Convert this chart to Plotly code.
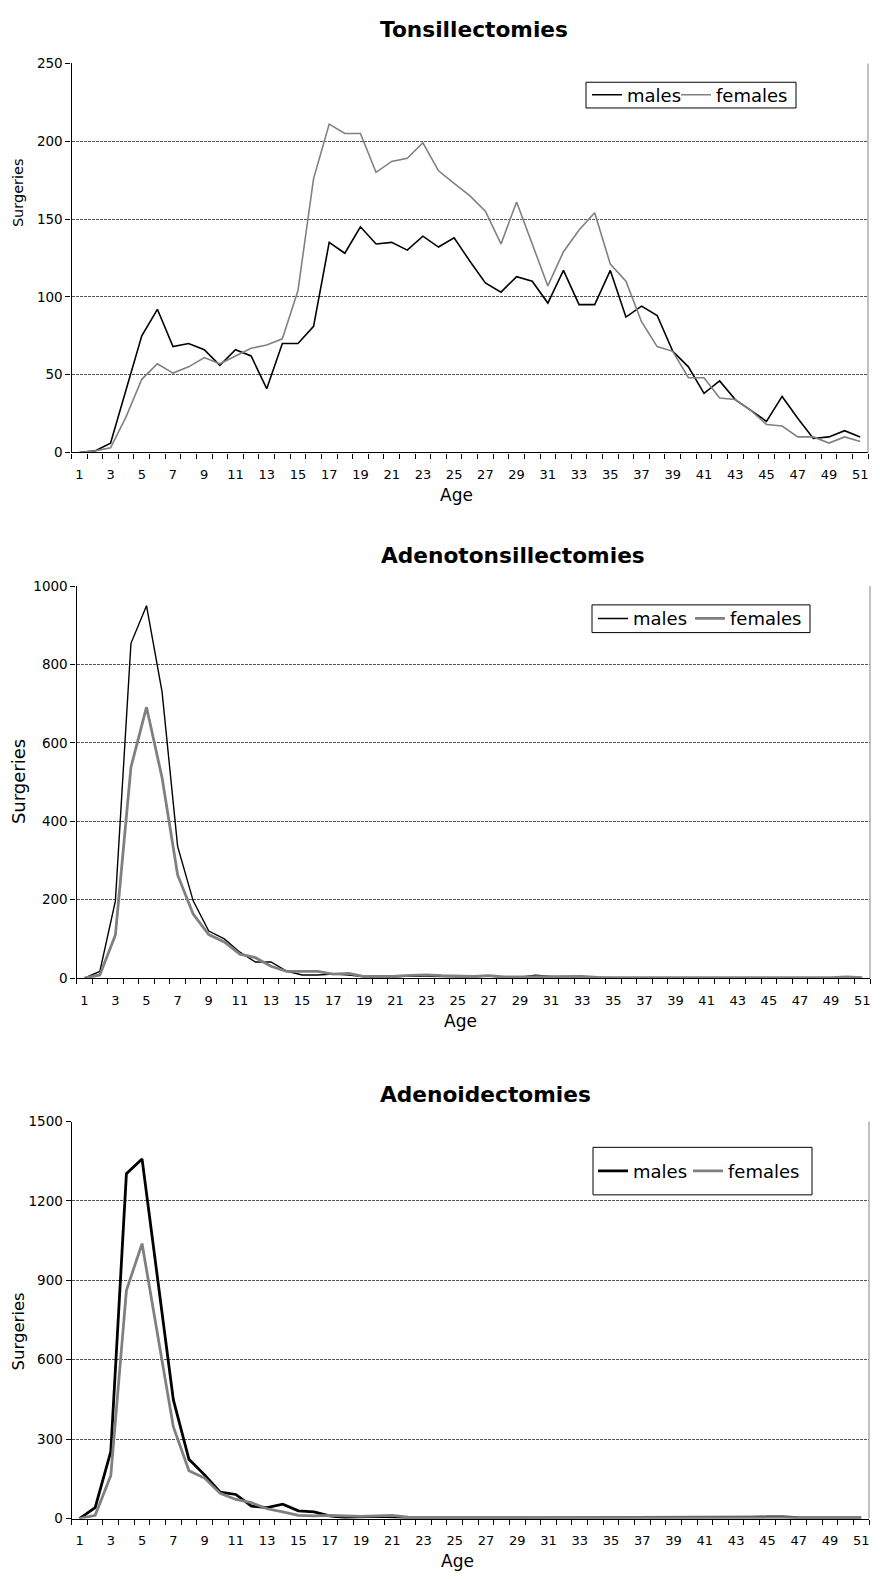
import plotly.graph_objects as go

W, H = 880, 1579
ages = list(range(1, 52))
tick_labels = [str(a) for a in range(1, 52, 2)]

tons_males = [0, 1, 6, 40, 75, 92, 68, 70, 66, 56, 66, 62, 41, 70, 70, 81, 135, 128, 145, 134,
              135, 130, 139, 132, 138, 123, 109, 103, 113, 110, 96, 117, 95, 95, 117, 87, 94, 88,
              65, 55, 38, 46, 34, 27, 20, 36, 22, 9, 10, 14, 10]
tons_females = [0, 1, 3, 23, 47, 57, 51, 55, 61, 57, 62, 67, 69, 73, 104, 176, 211, 205, 205, 180,
                187, 189, 199, 181, 173, 165, 155, 134, 161, 134, 107, 129, 143, 154, 121, 110, 84,
                68, 65, 48, 48, 35, 34, 27, 18, 17, 10, 10, 6, 10, 7]

adenotons_males = [0, 17, 197, 854, 950, 730, 336, 197, 120, 100, 66, 41, 41, 18, 8, 8, 10, 8,
                   3, 3, 3, 5, 5, 4, 3, 3, 5, 2, 2, 7, 4, 3, 3, 2, 1, 1, 1, 1, 1, 1, 1, 1, 1, 1,
                   1, 1, 1, 1, 1, 1, 0]
adenotons_females = [0, 8, 110, 538, 691, 511, 263, 163, 111, 92, 61, 52, 30, 17, 17, 17, 10, 12,
                     4, 4, 5, 7, 8, 6, 5, 4, 6, 3, 3, 3, 4, 3, 4, 2, 2, 1, 1, 1, 1, 1, 1, 1, 1, 1,
                     1, 1, 1, 1, 1, 3, 1]

adenoid_males = [0, 41, 253, 1303, 1359, 900, 449, 224, 165, 100, 91, 47, 41, 54, 29, 25, 10, 4,
                 5, 8, 6, 3, 3, 3, 3, 3, 4, 3, 3, 5, 3, 5, 5, 3, 3, 5, 5, 5, 3, 5, 3, 5, 3, 5, 6,
                 6, 3, 2, 2, 2, 2]
adenoid_females = [0, 12, 162, 862, 1039, 690, 347, 181, 153, 95, 72, 60, 37, 25, 12, 10, 12, 10,
                   8, 10, 12, 5, 5, 4, 4, 4, 4, 4, 4, 3, 3, 3, 3, 3, 3, 3, 3, 3, 3, 3, 3, 3, 3, 3,
                   3, 3, 3, 3, 2, 2, 2]

titles = ["Tonsillectomies", "Adenotonsillectomies", "Adenoidectomies"]
y_ranges = [(250, 50), (1000, 200), (1500, 300)]
series = [(tons_males, tons_females), (adenotons_males, adenotons_females),
          (adenoid_males, adenoid_females)]
widths = [(1.6, 1.6), (1.4, 2.8), (2.8, 2.8)]

# pixel geometry of each plot area: left, right, top, bottom
boxes = [(71.5, 868, 56, 449), (76.5, 870, 584, 980), (71.7, 869, 1125, 1526)]
title_pos = [(474, 22), (513, 553), (485, 1098)]
surg_pos = [(18, 187, 14.5), (18, 782, 18), (18, 1337, 16.5)]
legend_box = [(586, 796, 75, 101), (592, 810, 603, 631), (593, 812, 1151, 1199)]
legend_text_x = [(627, 716), (633, 730), (633, 728)]
legend_ids = [("legend7", "legend2"), ("legend3", "legend4"), ("legend5", "legend6")]

FONT = "DejaVu Sans"


def px(x):
    return x / W


def py(y):
    return 1 - y / H


fig = go.Figure()
for i in range(3):
    sfx = "" if i == 0 else str(i + 1)
    lg_m, lg_f = legend_ids[i]
    m, f = series[i]
    fig.add_trace(go.Scatter(x=ages, y=m, mode="lines", name="males",
                             line=dict(color="black", width=widths[i][0]),
                             xaxis="x" + sfx, yaxis="y" + sfx, legend=lg_m))
    fig.add_trace(go.Scatter(x=ages, y=f, mode="lines", name="females",
                             line=dict(color="#808080", width=widths[i][1]),
                             xaxis="x" + sfx, yaxis="y" + sfx, legend=lg_f))
    l, r, t, b = boxes[i]
    ymax, dy = y_ranges[i]
    fig.layout["xaxis" + sfx] = dict(
        domain=[px(l), px(r)], anchor="y" + sfx, range=[0.5, 51.5],
        tickmode="array", tickvals=list(range(1, 52, 2)), ticktext=tick_labels,
        ticks="outside", ticklen=10, tickcolor="rgba(0,0,0,0)",
        minor=dict(tickmode="array", tickvals=[a + 0.5 for a in range(0, 52)],
                   ticks="outside", ticklen=5, tickcolor="black", tickwidth=1),
        showgrid=False, zeroline=False, showline=True, linecolor="black", linewidth=1.2,
        tickfont=dict(family=FONT, size=13, color="black"),
    )
    fig.layout["yaxis" + sfx] = dict(
        domain=[py(b), py(t)], anchor="x" + sfx, range=[0, ymax],
        dtick=dy, tick0=0, ticks="outside", ticklen=5, tickcolor="black",
        showgrid=True, gridcolor="#555", griddash="3px,1px", gridwidth=1,
        zeroline=False, showline=True, linecolor="black", linewidth=1.2,
        tickfont=dict(family=FONT, size=13.5, color="black"),
    )
    fig.add_shape(type="line", xref="x" + sfx + " domain", yref="y" + sfx + " domain",
                  x0=1, x1=1, y0=0, y1=1, line=dict(color="#999", width=1.2))
    tx, ty = title_pos[i]
    fig.add_annotation(text="<b>" + titles[i] + "</b>", x=px(tx), y=py(ty),
                       xref="paper", yref="paper", showarrow=False,
                       xanchor="center", yanchor="middle",
                       font=dict(family=FONT, size=21.7, color="black"))
    sx, sy, ss = surg_pos[i]
    fig.add_annotation(text="Surgeries", x=px(sx), y=py(sy), textangle=-90,
                       xref="paper", yref="paper", showarrow=False,
                       xanchor="center", yanchor="middle",
                       font=dict(family=FONT, size=ss, color="black"))
    fig.add_annotation(text="Age", x=(l + r) / 2 / W - 0.015, y=py(b + 43),
                       xref="paper", yref="paper", showarrow=False,
                       xanchor="center", yanchor="middle",
                       font=dict(family=FONT, size=17, color="black"))
    bx0, bx1, by0, by1 = legend_box[i]
    fig.add_shape(type="rect", xref="paper", yref="paper",
                  x0=px(bx0), x1=px(bx1), y0=py(by1), y1=py(by0),
                  line=dict(color="black", width=1), fillcolor="white", layer="above")
    for lg, tx_leg in zip((lg_m, lg_f), legend_text_x[i]):
        fig.layout[lg] = dict(x=px(tx_leg - 40), y=py((by0 + by1) / 2),
                              xanchor="left", yanchor="middle", orientation="h",
                              borderwidth=0, bgcolor="rgba(0,0,0,0)", itemwidth=30,
                              font=dict(family=FONT, size=18, color="black"))

fig.update_layout(width=W, height=H, margin=dict(l=0, r=0, t=0, b=0),
                  paper_bgcolor="white", plot_bgcolor="white")

POST = "document.documentElement.style.margin='0';document.body.style.margin='0';"
fig.write_html("out.html", config={"displayModeBar": False}, post_script=POST)
